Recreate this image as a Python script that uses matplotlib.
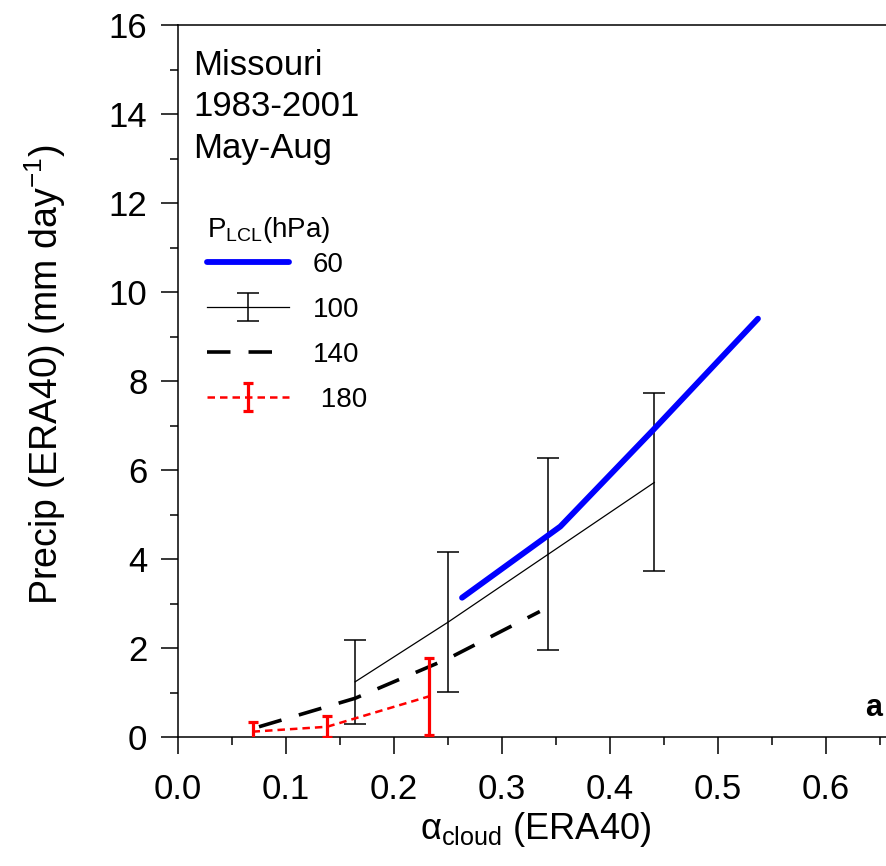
import matplotlib
matplotlib.use("Agg")
import matplotlib.pyplot as plt
from matplotlib.ticker import MultipleLocator

plt.rcParams["font.family"] = "Liberation Sans"
plt.rcParams["mathtext.fontset"] = "custom"
plt.rcParams["mathtext.rm"] = "Liberation Sans"
plt.rcParams["mathtext.it"] = "Liberation Sans:italic"
plt.rcParams["mathtext.bf"] = "Liberation Sans:bold"

# P_LCL = 60 hPa
x60 = [0.263, 0.354, 0.440, 0.537]
y60 = [3.13, 4.73, 6.90, 9.40]

# P_LCL = 100 hPa (with error bars)
x100 = [0.164, 0.250, 0.343, 0.441]
y100 = [1.24, 2.58, 4.11, 5.72]
e100 = [0.95, 1.57, 2.15, 2.00]

# P_LCL = 140 hPa
x140 = [0.075, 0.164, 0.250, 0.335]
y140 = [0.23, 0.87, 1.76, 2.82]

# P_LCL = 180 hPa (with error bars)
x180 = [0.069, 0.138, 0.232]
y180 = [0.12, 0.23, 0.91]
e180 = [0.21, 0.24, 0.86]

header_lines = ["Missouri", "1983-2001", "May-Aug"]
legend_labels = ["60", "100", "140", " 180"]

W, H = 886, 866
fig = plt.figure(figsize=(W / 100, H / 100), dpi=100)
# plot box is cut off on the right by the figure edge
ax = fig.add_axes([178 / W, 129 / H, 708 / W, 712 / H])

l60, = ax.plot(x60, y60, color="#0000ff", lw=4.2, solid_capstyle="round", zorder=4)
c100 = ax.errorbar(x100, y100, yerr=e100, color="black", lw=0.9, elinewidth=1.1,
                   capsize=8, capthick=1.1, zorder=3)
l140, = ax.plot(x140, y140, color="black", lw=2.6, dashes=(6.5, 5), zorder=3)
c180 = ax.errorbar(x180, y180, yerr=e180, color="#ff0000", lw=1.8, ls="--",
                   elinewidth=2.3, capsize=3.5, capthick=2.3, zorder=3)
c180.lines[0].set_dashes((3, 2))

ax.set_xlim(0, 708 / 1080)
ax.set_ylim(0, 16)
ax.spines["right"].set_visible(False)
ax.xaxis.set_major_locator(MultipleLocator(0.1))
ax.xaxis.set_minor_locator(MultipleLocator(0.05))
ax.yaxis.set_major_locator(MultipleLocator(2))
ax.yaxis.set_minor_locator(MultipleLocator(1))
ax.xaxis.set_major_formatter(plt.FuncFormatter(lambda v, p: f"{v:.1f}"))
ax.tick_params(which="major", direction="out", length=12, width=1.1, labelsize=25)
ax.tick_params(which="minor", direction="out", length=6, width=1.1)
ax.tick_params(axis="y", pad=10)
ax.tick_params(axis="x", pad=14)
for s in ax.spines.values():
    s.set_linewidth(1.1)

ax.set_xlabel("\u03b1$_{\\mathrm{cloud}}$ (ERA40)", fontsize=26)
ax.xaxis.set_label_coords((536 - 178) / 708, -(810 - 737) / 712)
ax.set_ylabel("Precip (ERA40) (mm day$^{-1}$)", fontsize=27)
ax.yaxis.set_label_coords((68 - 178) / 708, (737 - 375) / 712)

for i, line in enumerate(header_lines):
    fig.text(193 / W, 1 - (75 + 41.5 * i) / H, line, fontsize=25, va="baseline", ha="left")

# legend title drawn as its own text so it sits close to the entries
fig.text(207 / W, 1 - 237 / H, "P$_{\\mathrm{LCL}}$(hPa)", fontsize=20,
         va="baseline", ha="left")
leg = ax.legend([l60, c100, l140, c180], legend_labels, fontsize=20,
                loc="upper left", bbox_to_anchor=(207 / W, 1 - 252 / H),
                bbox_transform=fig.transFigure, frameon=False, borderpad=0,
                borderaxespad=0, handlelength=2.95, handletextpad=0.85,
                labelspacing=0.68)

fig.text(874 / W, 1 - 708 / H, "a", fontsize=22, fontweight="bold", ha="center", va="center")

fig.savefig("out.png", dpi=100)
